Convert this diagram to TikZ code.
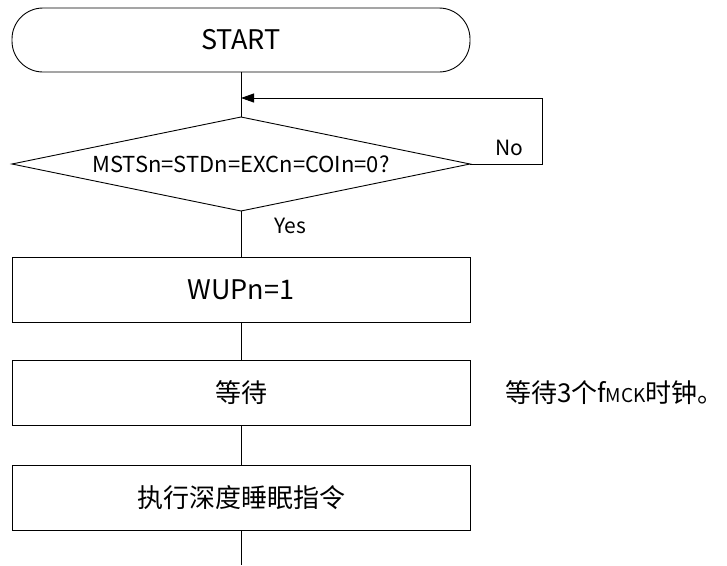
\documentclass[tikz,border=0pt]{standalone}
\usepackage{fontspec}
\setmainfont{Noto Sans CJK SC}
\usetikzlibrary{arrows.meta,shapes.geometric}
\begin{document}
\begin{tikzpicture}[x=1pt,y=-1pt,line width=0.9pt,
  every node/.style={inner sep=0pt,outer sep=0pt},
  procbox/.style={draw,minimum width=458pt,minimum height=65pt,font=\fontsize{27}{32}\selectfont},
  cjkbox/.style={procbox,font=\fontsize{26}{31}\selectfont},
  termbox/.style={draw,rounded corners=31pt,minimum width=458pt,minimum height=64pt,font=\fontsize{27}{32}\selectfont},
  decbox/.style={draw,diamond,minimum width=458pt,minimum height=94pt},
  lbl/.style={font=\fontsize{21}{25}\selectfont},
  arr/.style={-{Triangle[length=13pt,width=9pt]}}]
\useasboundingbox (0,0) rectangle (727,565);
\node[termbox] (start) at (241,40) {START};
\node[decbox] (dec) at (241,164) {};
\node[font=\fontsize{22}{26}\selectfont] (dectext) at (241,164) {MSTSn=STDn=EXCn=COIn=0?};
\node[procbox] (wup) at (241,289.5) {WUPn=1};
\node[cjkbox] (wait) at (241,392.5) {等待};
\node[cjkbox] (exec) at (241,498) {执行深度睡眠指令};
\node[anchor=west,font=\fontsize{26}{31}\selectfont] (note) at (505,392.5) {等待3个f{\fontsize{19}{23}\selectfont MCK}时钟。};
\coordinate (join) at (241,98);
\coordinate (loop) at (542,164);
\coordinate (bottom) at (241,565);
\node[lbl] (no) at (509,148) {No};
\node[lbl] (yes) at (290,226) {Yes};
\draw (start.south) -- (dec.north);
\draw[arr] (dec.east) -- (loop) |- (join);
\draw (dec.south) -- (wup.north);
\draw (wup.south) -- (wait.north);
\draw (wait.south) -- (exec.north);
\draw (exec.south) -- (bottom);
\end{tikzpicture}
\end{document}
